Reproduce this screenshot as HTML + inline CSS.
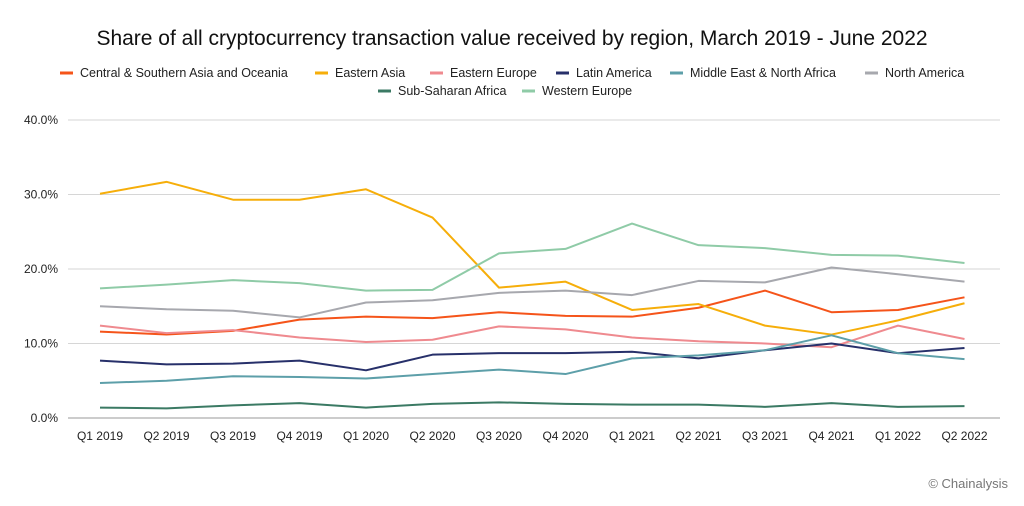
<!DOCTYPE html>
<html><head><meta charset="utf-8"><style>
body{margin:0;background:#fff;width:1024px;height:501px;overflow:hidden;font-family:"Liberation Sans",sans-serif}
</style></head><body>
<svg id="chart" width="1024" height="501" font-family="Liberation Sans, sans-serif">
<text x="512" y="45" text-anchor="middle" font-size="21" fill="#111">Share of all cryptocurrency transaction value received by region, March 2019 - June 2022</text>
<g id="grid"></g><g id="legend"></g><g id="series"></g>
<text x="1008" y="488" text-anchor="end" font-size="13" fill="#777">© Chainalysis</text>
</svg>
<script>
const categories=["Q1 2019","Q2 2019","Q3 2019","Q4 2019","Q1 2020","Q2 2020","Q3 2020","Q4 2020","Q1 2021","Q2 2021","Q3 2021","Q4 2021","Q1 2022","Q2 2022"];
const yTicks=[0,10,20,30,40];
const seriesNames=["Central & Southern Asia and Oceania","Eastern Asia","Eastern Europe","Latin America","Middle East & North Africa","North America","Sub-Saharan Africa","Western Europe"];
const centralAsia=[11.6,11.2,11.7,13.2,13.6,13.4,14.2,13.7,13.6,14.8,17.1,14.2,14.5,16.2];
const easternAsia=[30.1,31.7,29.3,29.3,30.7,26.9,17.5,18.3,14.5,15.3,12.4,11.2,13.1,15.4];
const easternEurope=[12.4,11.4,11.8,10.8,10.2,10.5,12.3,11.9,10.8,10.3,10.0,9.5,12.4,10.6];
const latinAmerica=[7.7,7.2,7.3,7.7,6.4,8.5,8.7,8.7,8.9,8.0,9.1,10.0,8.7,9.4];
const mena=[4.7,5.0,5.6,5.5,5.3,5.9,6.5,5.9,8.0,8.4,9.1,11.1,8.7,7.9];
const northAmerica=[15.0,14.6,14.4,13.5,15.5,15.8,16.8,17.1,16.5,18.4,18.2,20.2,19.3,18.3];
const subSaharan=[1.4,1.3,1.7,2.0,1.4,1.9,2.1,1.9,1.8,1.8,1.5,2.0,1.5,1.6];
const westernEurope=[17.4,17.9,18.5,18.1,17.1,17.2,22.1,22.7,26.1,23.2,22.8,21.9,21.8,20.8];
const allSeries=[centralAsia,easternAsia,easternEurope,latinAmerica,mena,northAmerica,subSaharan,westernEurope];
const colors=["#f5541a","#f6ae0a","#ef8a8f","#27306a","#5d9fa9","#a7a8ae","#3b7a64","#8fcba7"];
const NS="http://www.w3.org/2000/svg";
const x=i=>100+i*66.5;
const y=v=>418-v*7.45;
function mk(t,a,p){const e=document.createElementNS(NS,t);for(const k in a)e.setAttribute(k,a[k]);p.appendChild(e);return e;}
const grid=document.getElementById('grid');
yTicks.forEach(t=>{
 const l=mk('line',{x1:68,x2:1000,y1:y(t),y2:y(t),stroke:t===0?'#999':'#d6d6d6','stroke-width':1},grid);
 
 
 const tx=mk('text',{x:58,y:y(t)+4,'text-anchor':'end','font-size':12,fill:'#222'},grid);
 tx.textContent=t.toFixed(1)+'%';
 
 
});
categories.forEach((c,i)=>{
 const tx=mk('text',{x:x(i),y:440,'text-anchor':'middle','font-size':12,fill:'#222'},grid);
 tx.textContent=c;
 
 
});
const legPos=[[60,77],[315,77],[430,77],[556,77],[670,77],[865,77],[378,95],[522,95]];
const leg=document.getElementById('legend');
seriesNames.forEach((n,k)=>{
 const g=mk('g',{},leg);
 
 
 mk('line',{x1:legPos[k][0],x2:legPos[k][0]+13,y1:legPos[k][1]-4,y2:legPos[k][1]-4,stroke:colors[k],'stroke-width':3},g);
 const t=mk('text',{x:legPos[k][0]+20,y:legPos[k][1],'font-size':12.5,fill:'#222'},g);
 t.textContent=n;
});
const ser=document.getElementById('series');
allSeries.forEach((s,k)=>{
 const p=mk('polyline',{points:s.map((v,i)=>x(i)+','+y(v)).join(' '),fill:'none',stroke:colors[k],'stroke-width':2,'stroke-linejoin':'round'},ser);
 
 
});
</script>
</body></html>
